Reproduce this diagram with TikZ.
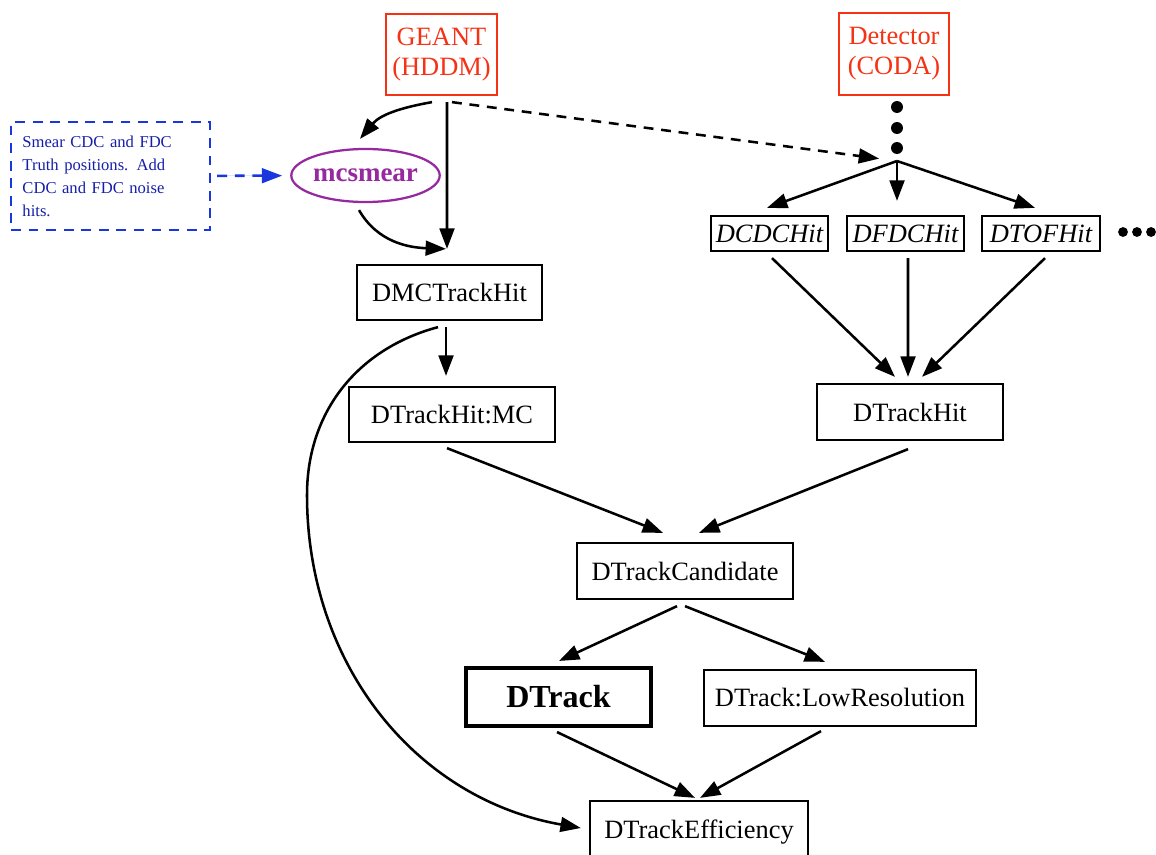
\documentclass[tikz,border=0pt]{standalone}
\usepackage{fontspec}
\setmainfont{Liberation Serif}
\usetikzlibrary{arrows.meta,calc,shapes.geometric}

\definecolor{srcred}{RGB}{245,50,20}
\definecolor{smearpurple}{RGB}{150,40,160}
\definecolor{noteblue}{RGB}{25,55,220}
\definecolor{notetext}{RGB}{20,30,170}

\tikzset{
  box/.style={draw, rectangle, line width=1.6pt, inner sep=1pt, font=\fontsize{18.8}{22}\selectfont},
  src/.style={box, draw=srcred, text=srcred, align=center, font=\fontsize{18.8}{21.3}\selectfont},
  hit/.style={box, font=\fontsize{18.8}{22}\selectfont\itshape},
  smear/.style={draw=smearpurple, text=smearpurple, ellipse, line width=1.6pt, inner sep=0pt, font=\fontsize{19.2}{22}\selectfont\bfseries},
  note/.style={draw=noteblue, text=notetext, dashed, dash pattern=on 7pt off 5.5pt, line width=1.6pt, align=left, text width=4.4cm, inner xsep=0.2875cm, font=\fontsize{11.8}{16.4}\selectfont},
  dot/.style={circle, fill, inner sep=0pt, minimum size=8.5pt},
  smalldot/.style={circle, fill, inner sep=0pt, minimum size=7pt},
  edge/.style={line width=1.8pt, -{Triangle[length=14.5pt,width=10.5pt]}},
  dashededge/.style={edge, dash pattern=on 7pt off 5.5pt},
  noteedge/.style={edge, draw=noteblue, fill=noteblue, dash pattern=on 7pt off 5.5pt}
}

\begin{document}
\begin{tikzpicture}[x=0.025cm, y=0.025cm]
	\useasboundingbox (0,0) rectangle (1156,-854);

	% sources
	\node[src, minimum width=2.775cm, minimum height=2.025cm] (geant) at (441.5,-54.5) {GEANT\\(HDDM)};
	\node[src, minimum width=2.75cm, minimum height=2.05cm] (detector) at (894,-54) {Detector\\(CODA)};

	\node[dot] (dot1) at (897,-107) {};
	\node[dot] (dot2) at (897,-128) {};
	\node[dot] (dot3) at (897,-148) {};
	\coordinate (hub) at (897,-161);

	% smearing
	\node[note, minimum height=2.7cm] (note) at (110.5,-176) {Smear CDC and FDC\\Truth positions. Add\\CDC and FDC noise\\hits.};
	\node[smear, minimum width=3.425cm, minimum height=1.325cm] (mcsmear) at (365.5,-175.5) {mcsmear};

	% hits
	\node[hit, minimum width=2.925cm, minimum height=0.875cm] (dcdc) at (769.5,-233.5) {DCDCHit};
	\node[hit, minimum width=2.925cm, minimum height=0.875cm] (dfdc) at (905.5,-233.5) {DFDCHit};
	\node[hit, minimum width=2.95cm, minimum height=0.875cm] (dtof) at (1041,-233.5) {DTOFHit};
	\node[smalldot] (more1) at (1123,-232) {};
	\node[smalldot] (more2) at (1137,-232) {};
	\node[smalldot] (more3) at (1151,-232) {};

	\node[box, minimum width=4.625cm, minimum height=1.375cm] (dmc) at (449.5,-292.5) {DMCTrackHit};
	\node[box, minimum width=5.15cm, minimum height=1.375cm] (hitmc) at (452,-414.5) {DTrackHit:MC};
	\node[box, minimum width=4.65cm, minimum height=1.4cm] (trackhit) at (910,-412) {DTrackHit};

	% tracks
	\node[box, minimum width=5.4cm, minimum height=1.4cm] (cand) at (685,-571) {DTrackCandidate};
	\node[box, line width=2.9pt, minimum width=4.625cm, minimum height=1.45cm, font=\fontsize{22.8}{26}\selectfont\bfseries] (dtrack) at (558.5,-697) {DTrack};
	\node[box, minimum width=6.8cm, minimum height=1.4cm] (lowres) at (840,-698) {DTrack:LowResolution};
	\node[box, minimum width=5.45cm, minimum height=1.55cm] (eff) at (699,-832) {DTrackEfficiency};

	\coordinate (bend) at (307,-495);

	\draw[edge] ($(geant.south)+(-9.5,-6)$) to[out=190,in=50] ($(mcsmear.north)+(-5.5,9)$);
	\draw[edge] ($(geant.south)+(5.5,-6)$) -- ($(dmc.north)+(-2.5,15)$);
	\draw[edge] ($(mcsmear.south)+(-6.5,-7)$) to[out=-60,in=178] ($(dmc.north)+(-3.5,15)$);
	\draw[noteedge, shorten <=4.3pt, shorten >=5.7pt] (note) -- (mcsmear);
	\draw[dashededge, shorten >=12.8pt] ($(geant.south)+(10.5,-6)$) -- (hub);

	\draw[edge] (hub) -- ($(dcdc.north)+(-2.5,7)$);
	\draw[edge] (hub) -- ($(dfdc.north)+(-8.5,14)$);
	\draw[edge] (hub) -- ($(dtof.north)+(-6,7)$);
	\draw[edge] ($(dcdc.south)+(2.5,-6)$) -- ($(trackhit.north)+(-15,6)$);
	\draw[edge] ($(dfdc.south)+(2.5,-6)$) -- ($(trackhit.north)+(-2,6)$);
	\draw[edge] ($(dtof.south)+(4,-6)$) -- ($(trackhit.north)+(12,6)$);

	\draw[edge] ($(dmc.south)+(-3.5,-6)$) -- ($(hitmc.north)+(-6,10)$);
	\draw[edge] ($(dmc.south)+(-11.5,-6)$) to[out=195,in=90] (bend) to[out=-90,in=170] ($(eff.west)+(-8,4)$);
	\draw[edge] ($(hitmc.south)+(-5,-5)$) -- ($(cand.north)+(-22,9)$);
	\draw[edge] ($(trackhit.south)+(-2,-8)$) -- ($(cand.north)+(14,9)$);

	\draw[edge] ($(cand.south)+(-8,-6)$) -- ($(dtrack.north)+(0.5,5)$);
	\draw[edge] ($(cand.south)+(0,-6)$) -- ($(lowres.north)+(-15,7)$);
	\draw[edge] ($(dtrack.south)+(-1.5,-4)$) -- ($(eff.north)+(-4,2)$);
	\draw[edge] ($(lowres.south)+(-19,-4)$) -- ($(eff.north)+(1,2)$);
\end{tikzpicture}
\end{document}
